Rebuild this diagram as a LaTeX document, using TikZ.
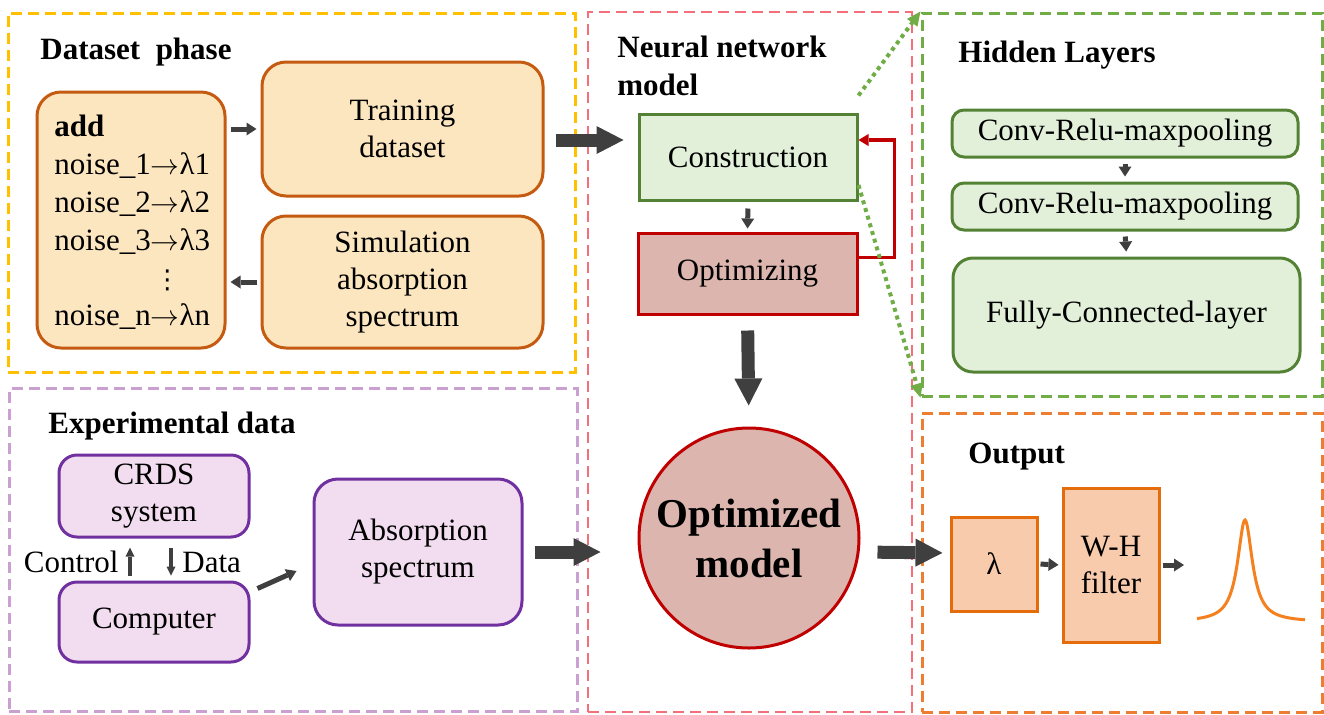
\documentclass[tikz,border=0pt]{standalone}
\usepackage{fontspec}
\setmainfont{Liberation Serif}
\newfontfamily\dotsfont{DejaVu Sans}
\usepackage{xcolor}
\usetikzlibrary{arrows.meta,positioning}

\definecolor{datagold}{HTML}{FFC000}
\definecolor{datafill}{HTML}{FCE6BF}
\definecolor{dataedge}{HTML}{C55A11}
\definecolor{netpink}{HTML}{F36F7A}
\definecolor{buildfill}{HTML}{E2F0D9}
\definecolor{buildedge}{HTML}{548235}
\definecolor{optfill}{HTML}{DBB5AE}
\definecolor{optedge}{HTML}{C00000}
\definecolor{layergreen}{HTML}{70AD47}
\definecolor{explilac}{HTML}{C9A0CF}
\definecolor{expfill}{HTML}{F2DCEF}
\definecolor{expedge}{HTML}{7030A0}
\definecolor{outorange}{HTML}{ED7D31}
\definecolor{outfill}{HTML}{F8CBAD}
\definecolor{outedge}{HTML}{E46C0A}
\definecolor{peakorange}{HTML}{F5801E}
\definecolor{arrowgray}{HTML}{3F3F3F}

\begin{document}
\begin{tikzpicture}[
        x=0.5pt, y=-0.5pt,
        inner sep=0pt,
        textfont/.style={font=\rmfamily\fontsize{15.5}{18.5}\selectfont},
        title/.style={font=\rmfamily\fontsize{15.5}{18.5}\selectfont\bfseries, anchor=base west},
        panel/.style={draw, line width=1.5pt, dash pattern=on 5.5pt off 3pt},
        databox/.style={draw=dataedge, fill=datafill, line width=1.5pt, rounded corners=12pt, align=center, textfont},
        buildbox/.style={draw=buildedge, fill=buildfill, line width=1.5pt, align=center, textfont},
        optbox/.style={draw=optedge, fill=optfill, line width=1.5pt, align=center, textfont},
        expbox/.style={draw=expedge, fill=expfill, line width=1.5pt, rounded corners=9pt, align=center, textfont},
        outbox/.style={draw=outedge, fill=outfill, line width=1.5pt, align=center, textfont},
        bigarrow/.style={draw=arrowgray, line width=6.5pt, -{Triangle[length=13.5pt, width=14pt, line width=0pt]}},
        smallarrow/.style={draw=arrowgray, line width=2.5pt, -{Triangle[length=5pt, width=6.5pt, line width=0pt]}},
        thinarrow/.style={draw=arrowgray, line width=1.6pt, -{Triangle[length=4.5pt, width=4.5pt, line width=0pt]}},
        feedback/.style={draw=optedge, line width=1.7pt, -{Triangle[length=5pt, width=6pt, line width=0pt]}},
        zoomline/.style={draw=layergreen, line width=2pt, dash pattern=on 2pt off 2pt, -{Triangle[length=7pt, width=6.5pt, line width=0pt]}}]

        \useasboundingbox (0,0) rectangle (1324,714);

        % PANELS
        \node[panel, draw=datagold, minimum width=283.5pt, minimum height=179.5pt] (dataset_panel) at (291.5,192.5) {};
        \node[panel, draw=netpink, line width=1.3pt, minimum width=162pt, minimum height=350pt] (nn_panel) at (750,362) {};
        \node[panel, draw=layergreen, minimum width=200pt, minimum height=191.5pt] (hidden_panel) at (1122,204.5) {};
        \node[panel, draw=explilac, minimum width=284pt, minimum height=161.5pt] (exp_panel) at (293,550) {};
        \node[panel, draw=outorange, minimum width=200pt, minimum height=149.5pt] (out_panel) at (1122,562.5) {};

        % titles
        \node[title] (dataset_title) at (40,59) {Dataset\ \ phase};
        \node[title] (nn_title) at (617,57) {Neural network};
        \node[title] (nn_title2) at (617,95) {model};
        \node[title] (hidden_title) at (958,62) {Hidden Layers};
        \node[title] (exp_title) at (48,433) {Experimental data};
        \node[title] (out_title) at (968,463) {Output};

        % NODES
        % dataset phase
        \node[databox, minimum width=94pt, minimum height=128pt] (addbox) at (131,220) {};
        \node[textfont, font=\rmfamily\fontsize{15.5}{18.9}\selectfont, align=left, anchor=north west] (noise_list) at (54,115)
            {\textbf{add}\\noise\_1$\rightarrow$λ1\\noise\_2$\rightarrow$λ2\\noise\_3$\rightarrow$λ3\\\hspace*{50pt}{\dotsfont\fontsize{13}{18.9}\selectfont ⋮}\\noise\_n$\rightarrow$λn};
        \node[databox, minimum width=140.5pt, minimum height=67pt] (training) at (402.5,129) {Training\\dataset};
        \node[databox, minimum width=140.5pt, minimum height=66pt] (simulation) at (402.5,282) {Simulation\\absorption\\spectrum};

        % neural network model
        \node[buildbox, minimum width=109pt, minimum height=43pt] (construction) at (748,157) {Construction};
        \node[optbox, minimum width=109.5pt, minimum height=40.5pt] (optimizing) at (747.5,273.5) {Optimizing};
        \node[optbox, circle, minimum size=110pt, font=\rmfamily\fontsize{20.5}{25}\selectfont\bfseries] (optimized) at (749,538) {Optimized\\model};

        % hidden layers
        \node[buildbox, rounded corners=6pt, minimum width=173pt, minimum height=23.5pt] (conv1) at (1125,133.5) {Conv-Relu-maxpooling};
        \node[buildbox, rounded corners=6pt, minimum width=173pt, minimum height=23.5pt] (conv2) at (1125,206.5) {Conv-Relu-maxpooling};
        \node[buildbox, rounded corners=10pt, minimum width=173.5pt, minimum height=57pt] (fc) at (1126.5,315) {Fully-Connected-layer};

        % experimental data
        \node[expbox, minimum width=95pt, minimum height=41pt] (crds) at (154,496) {CRDS\\system};
        \node[expbox, minimum width=95pt, minimum height=40pt] (computer) at (154,622) {Computer};
        \node[expbox, rounded corners=12pt, minimum width=104pt, minimum height=73pt] (absorption) at (418,552) {Absorption\\spectrum};
        \node[textfont, anchor=base east] (control_label) at (119,572) {Control};
        \node[textfont, anchor=base west] (data_label) at (182,572) {Data};

        % output
        \node[outbox, minimum width=43pt, minimum height=47pt] (lambda) at (994,564) {λ};
        \node[outbox, minimum width=48pt, minimum height=77pt] (whfilter) at (1111,565) {W-H\\filter};
        \coordinate (peak_in) at (1184,565);
        \draw[peakorange, line width=1.5pt] plot[domain=-48:60, samples=120, smooth] ({1245+\x}, {622-102/(1+(\x/9)^2)});

        % ARROWS
        \draw[smallarrow, shorten <=2pt, shorten >=2pt] (addbox.east |- training.west) -- (training.west);
        \draw[smallarrow, shorten <=2pt, shorten >=2pt] (simulation.west) -- (simulation.west -| addbox.east);
        \draw[bigarrow] ([xshift=-41pt, yshift=8.5pt]construction.west) -- ([xshift=-7pt, yshift=8.5pt]construction.west);

        \draw[smallarrow, shorten <=3.5pt, shorten >=1.5pt] (construction.south) -- (optimizing.north);
        \draw[feedback] ([yshift=8pt]optimizing.east) -- ++(36,0) |- ([yshift=8.5pt]construction.east);
        \draw[bigarrow, shorten <=7.5pt, shorten >=10.5pt] (optimizing.south) -- (optimized.north);
        \draw[zoomline] ([yshift=8.5pt]construction.north east) -- (hidden_panel.north west);
        \draw[zoomline] ([yshift=-14pt]construction.east) -- (hidden_panel.south west);

        \draw[smallarrow, shorten <=2.5pt, shorten >=2.5pt] (conv1.south) -- (conv2.north);
        \draw[smallarrow, shorten <=2.5pt, shorten >=2.5pt] (conv2.south) -- (fc.north);

        \draw[thinarrow, shorten <=2.5pt, shorten >=4.5pt] ([xshift=-12pt]computer.north) -- ([xshift=-12pt]crds.south);
        \draw[thinarrow, shorten <=4.5pt, shorten >=2.5pt] ([xshift=8.5pt]crds.south) -- ([xshift=8.5pt]computer.north);
        \draw[smallarrow] ([xshift=3.5pt, yshift=-4pt]computer.north east) -- ([xshift=-8pt, yshift=-9.5pt]absorption.west);
        \draw[bigarrow, shorten <=5.5pt, shorten >=18.5pt] (absorption.east) -- (absorption.east -| optimized.west);

        \draw[bigarrow, shorten <=8.5pt, shorten >=3.5pt] ([yshift=-7pt]optimized.east) -- ([yshift=5.5pt]lambda.west);
        \draw[smallarrow, shorten <=1pt, shorten >=1.5pt] (lambda.east) -- (whfilter.west);
        \draw[smallarrow, shorten <=1pt] (whfilter.east |- peak_in) -- (peak_in);
        \end{tikzpicture}
\end{document}
